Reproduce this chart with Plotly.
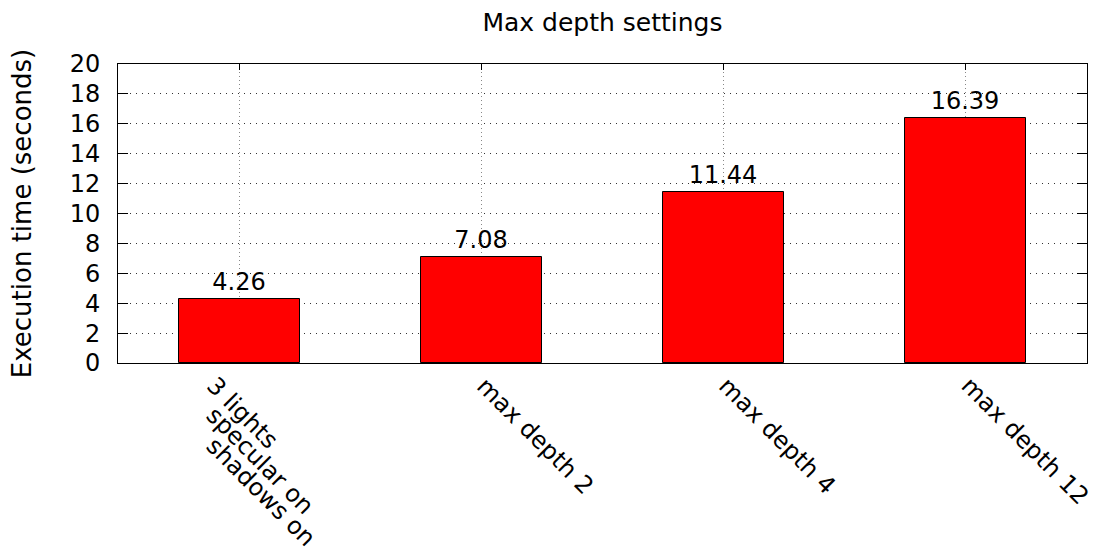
import plotly.graph_objects as go

# Data
categories = ["3 lights\nspecular on\nshadows on", "max depth 2", "max depth 4", "max depth 12"]
exec_times = [4.26, 7.08, 11.44, 16.39]
y_ticks = [0, 2, 4, 6, 8, 10, 12, 14, 16, 18, 20]

FONT = "DejaVu Sans"
FS = 24
x_pos = list(range(len(categories)))

fig = go.Figure()
fig.add_trace(go.Bar(
    x=x_pos, y=exec_times, width=0.5,
    marker=dict(color="#ff0000", line=dict(color="black", width=1)),
    text=[f"{v:.2f}" for v in exec_times], textposition="outside",
    textfont=dict(family=FONT, size=FS, color="black"),
    cliponaxis=False, showlegend=False,
))

# Rotated category labels, one annotation per line
annotations = []
for i, cat in enumerate(categories):
    lines = cat.split("\n")
    n = len(lines)
    for j, line in enumerate(lines):
        annotations.append(dict(
            x=i, y=0, xref="x", yref="y", text=line, showarrow=False,
            textangle=45, xanchor="left", yanchor="top",
            xshift=-13 - 14 * (n - 1), yshift=-6 - 30 * j,
            font=dict(family=FONT, size=FS, color="black"),
        ))

fig.update_layout(
    width=1098, height=552,
    margin=dict(l=118, r=11, t=64, b=189),
    paper_bgcolor="white", plot_bgcolor="white",
    font=dict(family=FONT, size=FS, color="black"),
    title=dict(text="Max depth settings", x=0.5, xref="paper", y=1 - 22 / 552,
               yanchor="middle", font=dict(family=FONT, size=25, color="black")),
    bargap=0, annotations=annotations,
    xaxis=dict(
        range=[-0.5, 3.5], tickvals=x_pos, showticklabels=False,
        ticks="inside", ticklen=6, tickcolor="black", mirror="ticks",
        showline=True, linecolor="black", linewidth=1,
        showgrid=True, gridcolor="#888", griddash="1px,3px", gridwidth=1,
        zeroline=False, layer="below traces",
    ),
    yaxis=dict(
        range=[0, 20], tickvals=y_ticks, ticks="inside", ticklen=10,
        tickcolor="black", mirror="ticks", showline=True, linecolor="black",
        linewidth=1, ticklabelstandoff=12,
        showgrid=True, gridcolor="#333", griddash="1px,5px", gridwidth=1,
        zeroline=False,
        title=dict(text="Execution time (seconds)", standoff=30,
                   font=dict(family=FONT, size=26)),
    ),
)

fig.write_html("out.html")
